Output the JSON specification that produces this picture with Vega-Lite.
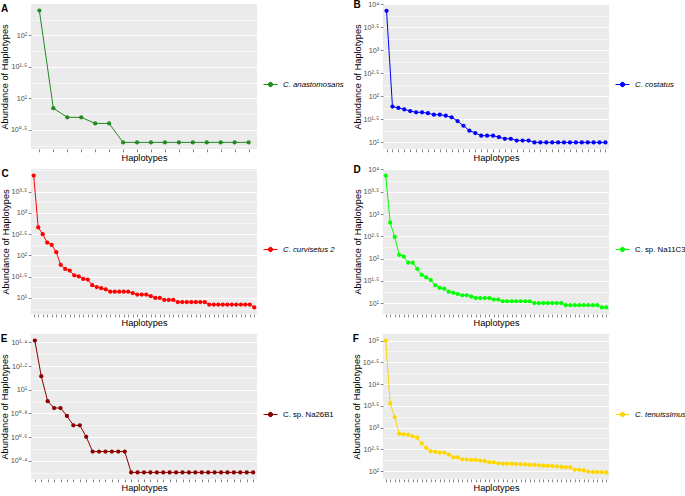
{
  "$schema": "https://vega.github.io/schema/vega-lite/v6.json",
  "padding": {"left": 0, "top": 0, "right": 0, "bottom": 0},
  "background": "white",
  "bounds": "flush",
  "columns": 2,
  "spacing": {"row": 20, "column": 126},
  "resolve": {"scale": {"color": "independent", "x": "independent", "y": "independent"}, "legend": {"color": "independent"}},
  "config": {
    "font": "Liberation Sans",
    "view": {"fill": "#EBEBEB", "stroke": null},
    "axis": {"domain": false, "gridColor": "#FFFFFF", "tickColor": "#333333", "tickSize": 2.75, "tickWidth": 0.6, "labelColor": "#4D4D4D", "labelFontSize": 7.2, "titleFontSize": 9.2, "titleFontWeight": "normal", "titleColor": "#000000", "labelFont": "Liberation Sans", "titleFont": "Liberation Sans"},
    "axisX": {"labels": false, "titlePadding": 1, "gridWidth": 1},
    "axisY": {"labelPadding": 1.5, "titlePadding": 0.5},
    "title": {"fontSize": 10, "fontWeight": "bold", "anchor": "start", "frame": "bounds", "color": "#000000", "baseline": "top", "offset": -10},
    "legend": {"orient": "none", "legendX": 232, "legendY": 73, "title": null, "symbolSize": 196, "symbolType": "M-1,0L1,0M-0.32,0A0.32,0.32,0,1,1,0.32,0A0.32,0.32,0,1,1,-0.32,0Z", "labelFontSize": 7.8, "labelColor": "#000000", "labelOffset": 5, "padding": 0, "symbolStrokeWidth": 1}
  },
  "concat": [
        {
          "width": 226, "height": 145,
          "title": {"text": "A"},
          "data": {"values": [
            {"species": "C. anastomosans", "h": 1, "n": 248},
            {"species": "C. anastomosans", "h": 2, "n": 7},
            {"species": "C. anastomosans", "h": 3, "n": 5},
            {"species": "C. anastomosans", "h": 4, "n": 5},
            {"species": "C. anastomosans", "h": 5, "n": 4},
            {"species": "C. anastomosans", "h": 6, "n": 4},
            {"species": "C. anastomosans", "h": 7, "n": 2},
            {"species": "C. anastomosans", "h": 8, "n": 2},
            {"species": "C. anastomosans", "h": 9, "n": 2},
            {"species": "C. anastomosans", "h": 10, "n": 2},
            {"species": "C. anastomosans", "h": 11, "n": 2},
            {"species": "C. anastomosans", "h": 12, "n": 2},
            {"species": "C. anastomosans", "h": 13, "n": 2},
            {"species": "C. anastomosans", "h": 14, "n": 2},
            {"species": "C. anastomosans", "h": 15, "n": 2},
            {"species": "C. anastomosans", "h": 16, "n": 2}
          ]},
          "encoding": {
            "x": {"field": "h", "type": "ordinal", "title": "Haplotypes", "scale": {"type": "point", "padding": 0.6}},
            "y": {"field": "n", "type": "quantitative", "title": "Abundance of Haplotypes",
              "scale": {"type": "log", "domain": [1.5704, 315.5], "nice": false, "zero": false},
              "axis": {
                "values": [1.7782794, 3.1622777, 5.6234133, 10, 17.782794, 31.622777, 56.234133, 100, 177.82794],
                "labelExpr": "abs(log(datum.value)/LN10*2-round(log(datum.value)/LN10*2))<0.01 ? '10' + replace(replace(replace(replace(replace(replace(replace(replace(replace(replace(replace(format(log(datum.value)/LN10,'.1~f'),'.','·'),'0','⁰'),'1','¹'),'2','²'),'3','³'),'4','⁴'),'5','⁵'),'6','⁶'),'7','⁷'),'8','⁸'),'9','⁹') : ''",
                "gridWidth": {"condition": {"test": "abs(log(datum.value)/LN10*2-round(log(datum.value)/LN10*2))<0.01", "value": 1}, "value": 0.5},
                "tickOpacity": {"condition": {"test": "abs(log(datum.value)/LN10*2-round(log(datum.value)/LN10*2))<0.01", "value": 1}, "value": 0}
              }}
          },
          "layer": [
            {"mark": {"type": "line", "strokeWidth": 1},
             "encoding": {"color": {"field": "species", "type": "nominal", "scale": {"range": ["#228B22"]},
               "legend": {"labelFontStyle": "italic", "encode": {"symbols": {"update": {"fill": {"value": "#228B22"}, "stroke": {"value": "#228B22"}, "opacity": {"value": 1}}}}}}}},
            {"mark": {"type": "point", "filled": true, "size": 18, "opacity": 1, "color": "#228B22"}}
          ]
        },
        {
          "width": 226, "height": 145,
          "title": {"text": "B"},
          "data": {"values": [
            {"species": "C. costatus", "h": 1, "n": 7200},
            {"species": "C. costatus", "h": 2, "n": 60},
            {"species": "C. costatus", "h": 3, "n": 56},
            {"species": "C. costatus", "h": 4, "n": 52},
            {"species": "C. costatus", "h": 5, "n": 48},
            {"species": "C. costatus", "h": 6, "n": 45},
            {"species": "C. costatus", "h": 7, "n": 45},
            {"species": "C. costatus", "h": 8, "n": 43},
            {"species": "C. costatus", "h": 9, "n": 40},
            {"species": "C. costatus", "h": 10, "n": 40},
            {"species": "C. costatus", "h": 11, "n": 38},
            {"species": "C. costatus", "h": 12, "n": 35},
            {"species": "C. costatus", "h": 13, "n": 29},
            {"species": "C. costatus", "h": 14, "n": 23},
            {"species": "C. costatus", "h": 15, "n": 18},
            {"species": "C. costatus", "h": 16, "n": 16},
            {"species": "C. costatus", "h": 17, "n": 14},
            {"species": "C. costatus", "h": 18, "n": 14},
            {"species": "C. costatus", "h": 19, "n": 14},
            {"species": "C. costatus", "h": 20, "n": 13},
            {"species": "C. costatus", "h": 21, "n": 12},
            {"species": "C. costatus", "h": 22, "n": 12},
            {"species": "C. costatus", "h": 23, "n": 11},
            {"species": "C. costatus", "h": 24, "n": 11},
            {"species": "C. costatus", "h": 25, "n": 11},
            {"species": "C. costatus", "h": 26, "n": 10},
            {"species": "C. costatus", "h": 27, "n": 10},
            {"species": "C. costatus", "h": 28, "n": 10},
            {"species": "C. costatus", "h": 29, "n": 10},
            {"species": "C. costatus", "h": 30, "n": 10},
            {"species": "C. costatus", "h": 31, "n": 10},
            {"species": "C. costatus", "h": 32, "n": 10},
            {"species": "C. costatus", "h": 33, "n": 10},
            {"species": "C. costatus", "h": 34, "n": 10},
            {"species": "C. costatus", "h": 35, "n": 10},
            {"species": "C. costatus", "h": 36, "n": 10},
            {"species": "C. costatus", "h": 37, "n": 10},
            {"species": "C. costatus", "h": 38, "n": 10}
          ]},
          "encoding": {
            "x": {"field": "h", "type": "ordinal", "title": "Haplotypes", "scale": {"type": "point", "padding": 0.6}},
            "y": {"field": "n", "type": "quantitative", "title": "Abundance of Haplotypes",
              "scale": {"type": "log", "domain": [7.194, 10116], "nice": false, "zero": false},
              "axis": {
                "values": [10, 17.782794, 31.622777, 56.234133, 100, 177.82794, 316.22777, 562.34133, 1000, 1778.2794, 3162.2777, 5623.4133, 10000],
                "labelExpr": "abs(log(datum.value)/LN10*2-round(log(datum.value)/LN10*2))<0.01 ? '10' + replace(replace(replace(replace(replace(replace(replace(replace(replace(replace(replace(format(log(datum.value)/LN10,'.1~f'),'.','·'),'0','⁰'),'1','¹'),'2','²'),'3','³'),'4','⁴'),'5','⁵'),'6','⁶'),'7','⁷'),'8','⁸'),'9','⁹') : ''",
                "gridWidth": {"condition": {"test": "abs(log(datum.value)/LN10*2-round(log(datum.value)/LN10*2))<0.01", "value": 1}, "value": 0.5},
                "tickOpacity": {"condition": {"test": "abs(log(datum.value)/LN10*2-round(log(datum.value)/LN10*2))<0.01", "value": 1}, "value": 0}
              }}
          },
          "layer": [
            {"mark": {"type": "line", "strokeWidth": 1},
             "encoding": {"color": {"field": "species", "type": "nominal", "scale": {"range": ["#0000FF"]},
               "legend": {"labelFontStyle": "italic", "encode": {"symbols": {"update": {"fill": {"value": "#0000FF"}, "stroke": {"value": "#0000FF"}, "opacity": {"value": 1}}}}}}}},
            {"mark": {"type": "point", "filled": true, "size": 18, "opacity": 1, "color": "#0000FF"}}
          ]
        },
        {
          "width": 226, "height": 145,
          "title": {"text": "C"},
          "data": {"values": [
            {"species": "C. curvisetus 2", "h": 1, "n": 7500},
            {"species": "C. curvisetus 2", "h": 2, "n": 456},
            {"species": "C. curvisetus 2", "h": 3, "n": 316},
            {"species": "C. curvisetus 2", "h": 4, "n": 200},
            {"species": "C. curvisetus 2", "h": 5, "n": 176},
            {"species": "C. curvisetus 2", "h": 6, "n": 119},
            {"species": "C. curvisetus 2", "h": 7, "n": 60},
            {"species": "C. curvisetus 2", "h": 8, "n": 48},
            {"species": "C. curvisetus 2", "h": 9, "n": 44},
            {"species": "C. curvisetus 2", "h": 10, "n": 34},
            {"species": "C. curvisetus 2", "h": 11, "n": 32},
            {"species": "C. curvisetus 2", "h": 12, "n": 28},
            {"species": "C. curvisetus 2", "h": 13, "n": 27},
            {"species": "C. curvisetus 2", "h": 14, "n": 20},
            {"species": "C. curvisetus 2", "h": 15, "n": 18},
            {"species": "C. curvisetus 2", "h": 16, "n": 17},
            {"species": "C. curvisetus 2", "h": 17, "n": 16},
            {"species": "C. curvisetus 2", "h": 18, "n": 14},
            {"species": "C. curvisetus 2", "h": 19, "n": 14},
            {"species": "C. curvisetus 2", "h": 20, "n": 14},
            {"species": "C. curvisetus 2", "h": 21, "n": 14},
            {"species": "C. curvisetus 2", "h": 22, "n": 14},
            {"species": "C. curvisetus 2", "h": 23, "n": 13},
            {"species": "C. curvisetus 2", "h": 24, "n": 12},
            {"species": "C. curvisetus 2", "h": 25, "n": 12},
            {"species": "C. curvisetus 2", "h": 26, "n": 12},
            {"species": "C. curvisetus 2", "h": 27, "n": 11},
            {"species": "C. curvisetus 2", "h": 28, "n": 10},
            {"species": "C. curvisetus 2", "h": 29, "n": 10},
            {"species": "C. curvisetus 2", "h": 30, "n": 9},
            {"species": "C. curvisetus 2", "h": 31, "n": 9},
            {"species": "C. curvisetus 2", "h": 32, "n": 9},
            {"species": "C. curvisetus 2", "h": 33, "n": 8},
            {"species": "C. curvisetus 2", "h": 34, "n": 8},
            {"species": "C. curvisetus 2", "h": 35, "n": 8},
            {"species": "C. curvisetus 2", "h": 36, "n": 8},
            {"species": "C. curvisetus 2", "h": 37, "n": 8},
            {"species": "C. curvisetus 2", "h": 38, "n": 8},
            {"species": "C. curvisetus 2", "h": 39, "n": 8},
            {"species": "C. curvisetus 2", "h": 40, "n": 7},
            {"species": "C. curvisetus 2", "h": 41, "n": 7},
            {"species": "C. curvisetus 2", "h": 42, "n": 7},
            {"species": "C. curvisetus 2", "h": 43, "n": 7},
            {"species": "C. curvisetus 2", "h": 44, "n": 7},
            {"species": "C. curvisetus 2", "h": 45, "n": 7},
            {"species": "C. curvisetus 2", "h": 46, "n": 7},
            {"species": "C. curvisetus 2", "h": 47, "n": 7},
            {"species": "C. curvisetus 2", "h": 48, "n": 7},
            {"species": "C. curvisetus 2", "h": 49, "n": 7},
            {"species": "C. curvisetus 2", "h": 50, "n": 6}
          ]},
          "encoding": {
            "x": {"field": "h", "type": "ordinal", "title": "Haplotypes", "scale": {"type": "point", "padding": 0.6}},
            "y": {"field": "n", "type": "quantitative", "title": "Abundance of Haplotypes",
              "scale": {"type": "log", "domain": [4.198, 10715], "nice": false, "zero": false},
              "axis": {
                "values": [5.6234133, 10, 17.782794, 31.622777, 56.234133, 100, 177.82794, 316.22777, 562.34133, 1000, 1778.2794, 3162.2777, 5623.4133, 10000],
                "labelExpr": "abs(log(datum.value)/LN10*2-round(log(datum.value)/LN10*2))<0.01 && datum.value<9000 ? '10' + replace(replace(replace(replace(replace(replace(replace(replace(replace(replace(replace(format(log(datum.value)/LN10,'.1~f'),'.','·'),'0','⁰'),'1','¹'),'2','²'),'3','³'),'4','⁴'),'5','⁵'),'6','⁶'),'7','⁷'),'8','⁸'),'9','⁹') : ''",
                "gridWidth": {"condition": {"test": "abs(log(datum.value)/LN10*2-round(log(datum.value)/LN10*2))<0.01 && datum.value<9000", "value": 1}, "value": 0.5},
                "tickOpacity": {"condition": {"test": "abs(log(datum.value)/LN10*2-round(log(datum.value)/LN10*2))<0.01 && datum.value<9000", "value": 1}, "value": 0}
              }}
          },
          "layer": [
            {"mark": {"type": "line", "strokeWidth": 1},
             "encoding": {"color": {"field": "species", "type": "nominal", "scale": {"range": ["#FF0000"]},
               "legend": {"labelFontStyle": "italic", "encode": {"symbols": {"update": {"fill": {"value": "#FF0000"}, "stroke": {"value": "#FF0000"}, "opacity": {"value": 1}}}}}}}},
            {"mark": {"type": "point", "filled": true, "size": 18, "opacity": 1, "color": "#FF0000"}}
          ]
        },
        {
          "width": 226, "height": 145,
          "title": {"text": "D"},
          "data": {"values": [
            {"species": "C. sp. Na11C3", "h": 1, "n": 7300},
            {"species": "C. sp. Na11C3", "h": 2, "n": 640},
            {"species": "C. sp. Na11C3", "h": 3, "n": 305},
            {"species": "C. sp. Na11C3", "h": 4, "n": 121},
            {"species": "C. sp. Na11C3", "h": 5, "n": 111},
            {"species": "C. sp. Na11C3", "h": 6, "n": 81},
            {"species": "C. sp. Na11C3", "h": 7, "n": 81},
            {"species": "C. sp. Na11C3", "h": 8, "n": 59},
            {"species": "C. sp. Na11C3", "h": 9, "n": 43},
            {"species": "C. sp. Na11C3", "h": 10, "n": 38},
            {"species": "C. sp. Na11C3", "h": 11, "n": 33},
            {"species": "C. sp. Na11C3", "h": 12, "n": 25},
            {"species": "C. sp. Na11C3", "h": 13, "n": 22},
            {"species": "C. sp. Na11C3", "h": 14, "n": 21},
            {"species": "C. sp. Na11C3", "h": 15, "n": 18},
            {"species": "C. sp. Na11C3", "h": 16, "n": 17},
            {"species": "C. sp. Na11C3", "h": 17, "n": 16},
            {"species": "C. sp. Na11C3", "h": 18, "n": 15},
            {"species": "C. sp. Na11C3", "h": 19, "n": 15},
            {"species": "C. sp. Na11C3", "h": 20, "n": 14},
            {"species": "C. sp. Na11C3", "h": 21, "n": 13},
            {"species": "C. sp. Na11C3", "h": 22, "n": 13},
            {"species": "C. sp. Na11C3", "h": 23, "n": 13},
            {"species": "C. sp. Na11C3", "h": 24, "n": 13},
            {"species": "C. sp. Na11C3", "h": 25, "n": 12},
            {"species": "C. sp. Na11C3", "h": 26, "n": 12},
            {"species": "C. sp. Na11C3", "h": 27, "n": 11},
            {"species": "C. sp. Na11C3", "h": 28, "n": 11},
            {"species": "C. sp. Na11C3", "h": 29, "n": 11},
            {"species": "C. sp. Na11C3", "h": 30, "n": 11},
            {"species": "C. sp. Na11C3", "h": 31, "n": 11},
            {"species": "C. sp. Na11C3", "h": 32, "n": 11},
            {"species": "C. sp. Na11C3", "h": 33, "n": 11},
            {"species": "C. sp. Na11C3", "h": 34, "n": 10},
            {"species": "C. sp. Na11C3", "h": 35, "n": 10},
            {"species": "C. sp. Na11C3", "h": 36, "n": 10},
            {"species": "C. sp. Na11C3", "h": 37, "n": 10},
            {"species": "C. sp. Na11C3", "h": 38, "n": 10},
            {"species": "C. sp. Na11C3", "h": 39, "n": 10},
            {"species": "C. sp. Na11C3", "h": 40, "n": 10},
            {"species": "C. sp. Na11C3", "h": 41, "n": 9},
            {"species": "C. sp. Na11C3", "h": 42, "n": 9},
            {"species": "C. sp. Na11C3", "h": 43, "n": 9},
            {"species": "C. sp. Na11C3", "h": 44, "n": 9},
            {"species": "C. sp. Na11C3", "h": 45, "n": 9},
            {"species": "C. sp. Na11C3", "h": 46, "n": 9},
            {"species": "C. sp. Na11C3", "h": 47, "n": 9},
            {"species": "C. sp. Na11C3", "h": 48, "n": 9},
            {"species": "C. sp. Na11C3", "h": 49, "n": 8},
            {"species": "C. sp. Na11C3", "h": 50, "n": 8}
          ]},
          "encoding": {
            "x": {"field": "h", "type": "ordinal", "title": "Haplotypes", "scale": {"type": "point", "padding": 0.6}},
            "y": {"field": "n", "type": "quantitative", "title": "Abundance of Haplotypes",
              "scale": {"type": "log", "domain": [5.69, 10257], "nice": false, "zero": false},
              "axis": {
                "values": [10, 17.782794, 31.622777, 56.234133, 100, 177.82794, 316.22777, 562.34133, 1000, 1778.2794, 3162.2777, 5623.4133, 10000],
                "labelExpr": "abs(log(datum.value)/LN10*2-round(log(datum.value)/LN10*2))<0.01 ? '10' + replace(replace(replace(replace(replace(replace(replace(replace(replace(replace(replace(format(log(datum.value)/LN10,'.1~f'),'.','·'),'0','⁰'),'1','¹'),'2','²'),'3','³'),'4','⁴'),'5','⁵'),'6','⁶'),'7','⁷'),'8','⁸'),'9','⁹') : ''",
                "gridWidth": {"condition": {"test": "abs(log(datum.value)/LN10*2-round(log(datum.value)/LN10*2))<0.01", "value": 1}, "value": 0.5},
                "tickOpacity": {"condition": {"test": "abs(log(datum.value)/LN10*2-round(log(datum.value)/LN10*2))<0.01", "value": 1}, "value": 0}
              }}
          },
          "layer": [
            {"mark": {"type": "line", "strokeWidth": 1},
             "encoding": {"color": {"field": "species", "type": "nominal", "scale": {"range": ["#00FF00"]},
               "legend": {"labelFontStyle": "normal", "encode": {"symbols": {"update": {"fill": {"value": "#00FF00"}, "stroke": {"value": "#00FF00"}, "opacity": {"value": 1}}}}}}}},
            {"mark": {"type": "point", "filled": true, "size": 18, "opacity": 1, "color": "#00FF00"}}
          ]
        },
        {
          "width": 226, "height": 145,
          "title": {"text": "E"},
          "data": {"values": [
            {"species": "C. sp. Na26B1", "h": 1, "n": 26},
            {"species": "C. sp. Na26B1", "h": 2, "n": 13},
            {"species": "C. sp. Na26B1", "h": 3, "n": 8},
            {"species": "C. sp. Na26B1", "h": 4, "n": 7},
            {"species": "C. sp. Na26B1", "h": 5, "n": 7},
            {"species": "C. sp. Na26B1", "h": 6, "n": 6},
            {"species": "C. sp. Na26B1", "h": 7, "n": 5},
            {"species": "C. sp. Na26B1", "h": 8, "n": 5},
            {"species": "C. sp. Na26B1", "h": 9, "n": 4},
            {"species": "C. sp. Na26B1", "h": 10, "n": 3},
            {"species": "C. sp. Na26B1", "h": 11, "n": 3},
            {"species": "C. sp. Na26B1", "h": 12, "n": 3},
            {"species": "C. sp. Na26B1", "h": 13, "n": 3},
            {"species": "C. sp. Na26B1", "h": 14, "n": 3},
            {"species": "C. sp. Na26B1", "h": 15, "n": 3},
            {"species": "C. sp. Na26B1", "h": 16, "n": 2},
            {"species": "C. sp. Na26B1", "h": 17, "n": 2},
            {"species": "C. sp. Na26B1", "h": 18, "n": 2},
            {"species": "C. sp. Na26B1", "h": 19, "n": 2},
            {"species": "C. sp. Na26B1", "h": 20, "n": 2},
            {"species": "C. sp. Na26B1", "h": 21, "n": 2},
            {"species": "C. sp. Na26B1", "h": 22, "n": 2},
            {"species": "C. sp. Na26B1", "h": 23, "n": 2},
            {"species": "C. sp. Na26B1", "h": 24, "n": 2},
            {"species": "C. sp. Na26B1", "h": 25, "n": 2},
            {"species": "C. sp. Na26B1", "h": 26, "n": 2},
            {"species": "C. sp. Na26B1", "h": 27, "n": 2},
            {"species": "C. sp. Na26B1", "h": 28, "n": 2},
            {"species": "C. sp. Na26B1", "h": 29, "n": 2},
            {"species": "C. sp. Na26B1", "h": 30, "n": 2},
            {"species": "C. sp. Na26B1", "h": 31, "n": 2},
            {"species": "C. sp. Na26B1", "h": 32, "n": 2},
            {"species": "C. sp. Na26B1", "h": 33, "n": 2},
            {"species": "C. sp. Na26B1", "h": 34, "n": 2},
            {"species": "C. sp. Na26B1", "h": 35, "n": 2}
          ]},
          "encoding": {
            "x": {"field": "h", "type": "ordinal", "title": "Haplotypes", "scale": {"type": "point", "padding": 0.6}},
            "y": {"field": "n", "type": "quantitative", "title": "Abundance of Haplotypes",
              "scale": {"type": "log", "domain": [1.759, 29.56], "nice": false, "zero": false},
              "axis": {
                "values": [1.9952623, 2.5118864, 3.1622777, 3.9810717, 5.0118723, 6.3095734, 7.9432823, 10, 12.589254, 15.848932, 19.952623, 25.118864],
                "labelExpr": "abs(log(datum.value)/LN10*5-round(log(datum.value)/LN10*5))<0.01 ? '10' + replace(replace(replace(replace(replace(replace(replace(replace(replace(replace(replace(format(log(datum.value)/LN10,'.1~f'),'.','·'),'0','⁰'),'1','¹'),'2','²'),'3','³'),'4','⁴'),'5','⁵'),'6','⁶'),'7','⁷'),'8','⁸'),'9','⁹') : ''",
                "gridWidth": {"condition": {"test": "abs(log(datum.value)/LN10*5-round(log(datum.value)/LN10*5))<0.01", "value": 1}, "value": 0.5},
                "tickOpacity": {"condition": {"test": "abs(log(datum.value)/LN10*5-round(log(datum.value)/LN10*5))<0.01", "value": 1}, "value": 0}
              }}
          },
          "layer": [
            {"mark": {"type": "line", "strokeWidth": 1},
             "encoding": {"color": {"field": "species", "type": "nominal", "scale": {"range": ["#8B0000"]},
               "legend": {"labelFontStyle": "normal", "encode": {"symbols": {"update": {"fill": {"value": "#8B0000"}, "stroke": {"value": "#8B0000"}, "opacity": {"value": 1}}}}}}}},
            {"mark": {"type": "point", "filled": true, "size": 18, "opacity": 1, "color": "#8B0000"}}
          ]
        },
        {
          "width": 226, "height": 145,
          "title": {"text": "F"},
          "data": {"values": [
            {"species": "C. tenuissimus", "h": 1, "n": 100000},
            {"species": "C. tenuissimus", "h": 2, "n": 3590},
            {"species": "C. tenuissimus", "h": 3, "n": 1727},
            {"species": "C. tenuissimus", "h": 4, "n": 721},
            {"species": "C. tenuissimus", "h": 5, "n": 696},
            {"species": "C. tenuissimus", "h": 6, "n": 684},
            {"species": "C. tenuissimus", "h": 7, "n": 626},
            {"species": "C. tenuissimus", "h": 8, "n": 584},
            {"species": "C. tenuissimus", "h": 9, "n": 431},
            {"species": "C. tenuissimus", "h": 10, "n": 342},
            {"species": "C. tenuissimus", "h": 11, "n": 286},
            {"species": "C. tenuissimus", "h": 12, "n": 276},
            {"species": "C. tenuissimus", "h": 13, "n": 266},
            {"species": "C. tenuissimus", "h": 14, "n": 266},
            {"species": "C. tenuissimus", "h": 15, "n": 239},
            {"species": "C. tenuissimus", "h": 16, "n": 207},
            {"species": "C. tenuissimus", "h": 17, "n": 207},
            {"species": "C. tenuissimus", "h": 18, "n": 186},
            {"species": "C. tenuissimus", "h": 19, "n": 186},
            {"species": "C. tenuissimus", "h": 20, "n": 180},
            {"species": "C. tenuissimus", "h": 21, "n": 180},
            {"species": "C. tenuissimus", "h": 22, "n": 174},
            {"species": "C. tenuissimus", "h": 23, "n": 168},
            {"species": "C. tenuissimus", "h": 24, "n": 159},
            {"species": "C. tenuissimus", "h": 25, "n": 159},
            {"species": "C. tenuissimus", "h": 26, "n": 151},
            {"species": "C. tenuissimus", "h": 27, "n": 148},
            {"species": "C. tenuissimus", "h": 28, "n": 148},
            {"species": "C. tenuissimus", "h": 29, "n": 148},
            {"species": "C. tenuissimus", "h": 30, "n": 145},
            {"species": "C. tenuissimus", "h": 31, "n": 143},
            {"species": "C. tenuissimus", "h": 32, "n": 143},
            {"species": "C. tenuissimus", "h": 33, "n": 138},
            {"species": "C. tenuissimus", "h": 34, "n": 138},
            {"species": "C. tenuissimus", "h": 35, "n": 135},
            {"species": "C. tenuissimus", "h": 36, "n": 133},
            {"species": "C. tenuissimus", "h": 37, "n": 131},
            {"species": "C. tenuissimus", "h": 38, "n": 131},
            {"species": "C. tenuissimus", "h": 39, "n": 128},
            {"species": "C. tenuissimus", "h": 40, "n": 124},
            {"species": "C. tenuissimus", "h": 41, "n": 122},
            {"species": "C. tenuissimus", "h": 42, "n": 122},
            {"species": "C. tenuissimus", "h": 43, "n": 107},
            {"species": "C. tenuissimus", "h": 44, "n": 107},
            {"species": "C. tenuissimus", "h": 45, "n": 103},
            {"species": "C. tenuissimus", "h": 46, "n": 97},
            {"species": "C. tenuissimus", "h": 47, "n": 95},
            {"species": "C. tenuissimus", "h": 48, "n": 95},
            {"species": "C. tenuissimus", "h": 49, "n": 95},
            {"species": "C. tenuissimus", "h": 50, "n": 93}
          ]},
          "encoding": {
            "x": {"field": "h", "type": "ordinal", "title": "Haplotypes", "scale": {"type": "point", "padding": 0.6}},
            "y": {"field": "n", "type": "quantitative", "title": "Abundance of Haplotypes",
              "scale": {"type": "log", "domain": [65.6, 141800], "nice": false, "zero": false},
              "axis": {
                "values": [100, 177.82794, 316.22777, 562.34133, 1000, 1778.2794, 3162.2777, 5623.4133, 10000, 17782.794, 31622.777, 56234.133, 100000],
                "labelExpr": "abs(log(datum.value)/LN10*2-round(log(datum.value)/LN10*2))<0.01 ? '10' + replace(replace(replace(replace(replace(replace(replace(replace(replace(replace(replace(format(log(datum.value)/LN10,'.1~f'),'.','·'),'0','⁰'),'1','¹'),'2','²'),'3','³'),'4','⁴'),'5','⁵'),'6','⁶'),'7','⁷'),'8','⁸'),'9','⁹') : ''",
                "gridWidth": {"condition": {"test": "abs(log(datum.value)/LN10*2-round(log(datum.value)/LN10*2))<0.01", "value": 1}, "value": 0.5},
                "tickOpacity": {"condition": {"test": "abs(log(datum.value)/LN10*2-round(log(datum.value)/LN10*2))<0.01", "value": 1}, "value": 0}
              }}
          },
          "layer": [
            {"mark": {"type": "line", "strokeWidth": 1},
             "encoding": {"color": {"field": "species", "type": "nominal", "scale": {"range": ["#FFD700"]},
               "legend": {"labelFontStyle": "italic", "encode": {"symbols": {"update": {"fill": {"value": "#FFD700"}, "stroke": {"value": "#FFD700"}, "opacity": {"value": 1}}}}}}}},
            {"mark": {"type": "point", "filled": true, "size": 18, "opacity": 1, "color": "#FFD700"}}
          ]
        }
  ]
}
